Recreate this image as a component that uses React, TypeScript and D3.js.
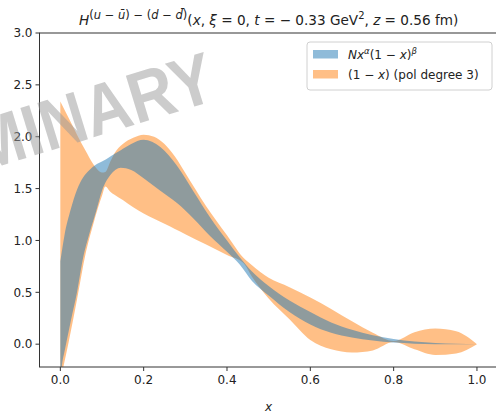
import React from 'react';
import * as d3 from 'd3';

// (1 - x) pol degree 3 band
const orangeX = [0, 0.02, 0.04, 0.06, 0.08, 0.09, 0.1, 0.108, 0.12, 0.13, 0.15, 0.175, 0.2, 0.225, 0.25, 0.275, 0.3, 0.35, 0.4, 0.44, 0.46, 0.5, 0.55, 0.6, 0.65, 0.7, 0.75, 0.8, 0.85, 0.9, 0.95, 1.0];
const orangeHigh = [2.34, 2.18, 2.02, 1.87, 1.73, 1.68, 1.655, 1.66, 1.76, 1.84, 1.93, 1.99, 2.02, 2.0, 1.93, 1.81, 1.65, 1.33, 1.05, 0.83, 0.76, 0.64, 0.55, 0.45, 0.34, 0.22, 0.11, 0.03, 0.115, 0.15, 0.125, 0.0];
const orangeLow = [-0.35, 0.02, 0.43, 0.86, 1.17, 1.31, 1.43, 1.52, 1.47, 1.44, 1.39, 1.32, 1.26, 1.21, 1.16, 1.11, 1.06, 0.96, 0.86, 0.78, 0.65, 0.44, 0.24, 0.04, -0.05, -0.08, -0.06, 0.02, -0.05, -0.105, -0.09, 0.0];

// N x^a (1-x)^b band
const blueX = [0, 0.005, 0.01, 0.025, 0.04, 0.055, 0.07, 0.085, 0.1, 0.12, 0.145, 0.17, 0.2, 0.24, 0.28, 0.32, 0.36, 0.4, 0.43, 0.46, 0.5, 0.55, 0.6, 0.65, 0.7, 0.75, 0.8, 0.85, 0.9, 0.95, 1.0];
const blueHigh = [0.8, 0.93, 1.05, 1.3, 1.49, 1.61, 1.68, 1.73, 1.76, 1.81, 1.87, 1.93, 1.97, 1.9, 1.72, 1.47, 1.22, 1.0, 0.84, 0.7, 0.56, 0.42, 0.31, 0.21, 0.14, 0.085, 0.05, 0.025, 0.012, 0.004, 0];
const blueLow = [-0.35, -0.17, -0.07, 0.22, 0.5, 0.84, 1.07, 1.27, 1.48, 1.63, 1.7, 1.68, 1.6, 1.48, 1.36, 1.21, 1.04, 0.89, 0.77, 0.61, 0.47, 0.31, 0.19, 0.11, 0.065, 0.035, 0.015, 0.005, 0, 0, 0];

const xTicks = [0, 0.2, 0.4, 0.6, 0.8, 1.0];
const yTicks = [0, 0.5, 1, 1.5, 2, 2.5, 3];

const font = 'DejaVu Sans';

export default function App() {
  const x = d3.scaleLinear().domain([-0.05, 1.05]).range([39.5, 497.8]);
  const y = d3.scaleLinear().domain([-0.22, 3]).range([367, 33]);

  const band = (xs: number[], lo: number[], hi: number[]) =>
    d3
      .area<number>()
      .x((i) => x(xs[i]))
      .y0((i) => y(lo[i]))
      .y1((i) => y(hi[i]))
      .curve(d3.curveMonotoneX)(d3.range(xs.length)) || '';

  const left = x(-0.05);
  const right = x(1.05);
  const top = y(3);
  const bottom = y(-0.22);

  return (
    <svg width={496} height={416} style={{ position: 'absolute', left: 0, top: 0, background: '#fff' }} fontFamily={font}>
      <defs>
        <clipPath id="plot">
          <rect x={left} y={top} width={right - left} height={bottom - top} />
        </clipPath>
      </defs>

      <g clipPath="url(#plot)">
        <path d={band(orangeX, orangeLow, orangeHigh)} fill="#ff7f0e" fillOpacity={0.5} />
        <path d={band(blueX, blueLow, blueHigh)} fill="#1f77b4" fillOpacity={0.5} />
      </g>

      {/* spines */}
      <rect x={left} y={top} width={right - left} height={bottom - top} fill="none" stroke="#333" strokeWidth={1} />

      {/* x ticks */}
      {xTicks.map((t) => (
        <g key={'x' + t} transform={`translate(${x(t)},${bottom})`}>
          <line y2={4} stroke="#333" />
          <text y={17} textAnchor="middle" fontSize={12} fill="#222">
            {t.toFixed(1)}
          </text>
        </g>
      ))}
      {/* y ticks */}
      {yTicks.map((t) => (
        <g key={'y' + t} transform={`translate(${left},${y(t)})`}>
          <line x2={-4} stroke="#333" />
          <text x={-7} dy="0.35em" textAnchor="end" fontSize={12} fill="#222">
            {t.toFixed(1)}
          </text>
        </g>
      ))}

      <text x={(left + right) / 2} y={411} textAnchor="middle" fontSize={12} fontStyle="italic" fill="#222">
        x
      </text>

      {/* title */}
      <text x={(left + right) / 2} y={25} textAnchor="middle" fontSize={13.6} fill="#222">
        <tspan fontStyle="italic">H</tspan>
        <tspan fontSize={11.5} dy={-6}>
          (<tspan fontStyle="italic">u</tspan> − <tspan fontStyle="italic">ū</tspan>) − (<tspan fontStyle="italic">d</tspan> − <tspan fontStyle="italic">d̄</tspan>)
        </tspan>
        <tspan dy={6}>(</tspan>
        <tspan fontStyle="italic">x</tspan>
        <tspan>, </tspan>
        <tspan fontStyle="italic">ξ</tspan>
        <tspan> = 0, </tspan>
        <tspan fontStyle="italic">t</tspan>
        <tspan> = − 0.33 GeV</tspan>
        <tspan fontSize={10} dy={-6}>2</tspan>
        <tspan dy={6}>, </tspan>
        <tspan fontStyle="italic">z</tspan>
        <tspan> = 0.56 fm)</tspan>
      </text>

      {/* watermark */}
      <text
        transform="translate(219,99) rotate(-17) scale(0.89,1)"
        textAnchor="end"
        fontFamily="Liberation Sans"
        fontSize={72}
        fontWeight="bold"
        fill="#9a9a9a"
        fillOpacity={0.5}
      >
        PRELIMINARY
      </text>

      {/* legend */}
      <g>
        <rect x={307} y={42} width={185} height={48} rx={3} fill="#fff" fillOpacity={0.8} stroke="#d0d0d0" />
        <rect x={313} y={50} width={25} height={8.5} fill="#1f77b4" fillOpacity={0.5} />
        <rect x={313} y={70} width={25} height={8.5} fill="#ff7f0e" fillOpacity={0.5} />
        <text x={348} y={59} fontSize={12} fill="#222">
          <tspan fontStyle="italic">Nx</tspan>
          <tspan fontSize={8.5} dy={-5} fontStyle="italic">α</tspan>
          <tspan dy={5}>(1 − </tspan>
          <tspan fontStyle="italic">x</tspan>
          <tspan>)</tspan>
          <tspan fontSize={8.5} dy={-5} fontStyle="italic">β</tspan>
        </text>
        <text x={348} y={79} fontSize={12} fill="#222">
          <tspan>(1 − </tspan>
          <tspan fontStyle="italic">x</tspan>
          <tspan>) (pol degree 3)</tspan>
        </text>
      </g>
    </svg>
  );
}
